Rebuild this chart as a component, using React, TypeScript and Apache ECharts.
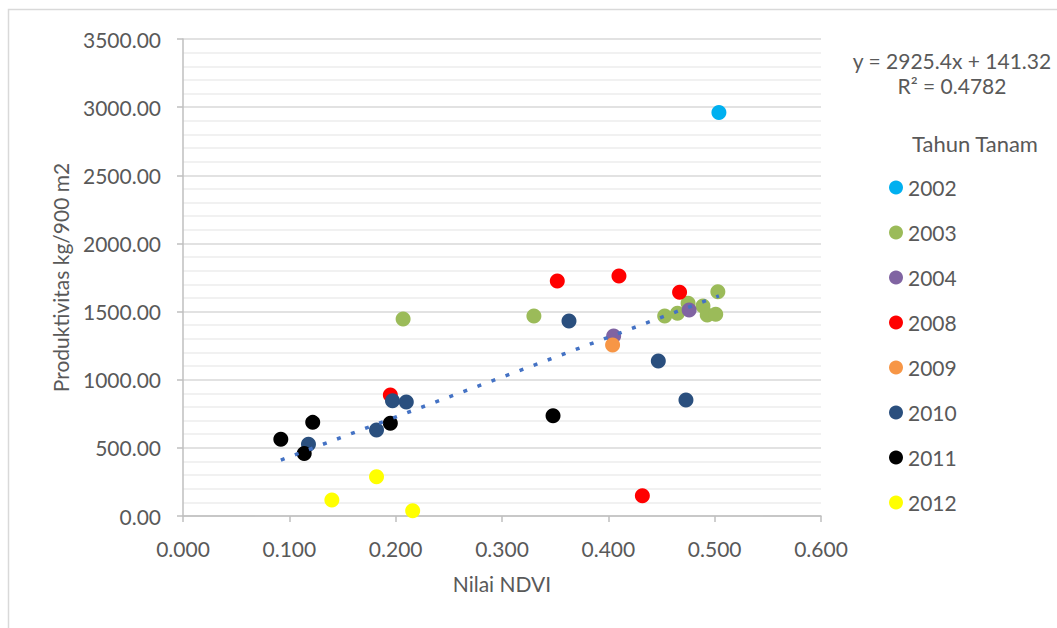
import React, { useEffect, useRef } from "react";
import * as echarts from "echarts";

const years = ["2002", "2003", "2004", "2008", "2009", "2010", "2011", "2012"];
const colors = ["#00b0f0", "#9bbb59", "#8064a2", "#ff0000", "#f79646", "#2a4f7e", "#000000", "#ffff00"];

const d2002: number[][] = [[0.504, 2960]];
const d2003: number[][] = [
  [0.207, 1445], [0.330, 1467], [0.453, 1467], [0.465, 1487], [0.475, 1561],
  [0.489, 1541], [0.493, 1475], [0.501, 1480], [0.503, 1646],
];
const d2004: number[][] = [[0.405, 1321], [0.476, 1511]];
const d2008: number[][] = [[0.352, 1724], [0.410, 1761], [0.467, 1641], [0.195, 888], [0.432, 148]];
const d2009: number[][] = [[0.404, 1255]];
const d2010: number[][] = [
  [0.363, 1431], [0.447, 1137], [0.473, 851], [0.197, 846], [0.210, 836], [0.182, 631], [0.118, 526],
];
const d2011: number[][] = [[0.348, 736], [0.195, 680], [0.122, 687], [0.092, 563], [0.114, 458]];
const d2012: number[][] = [[0.140, 117], [0.182, 288], [0.216, 39]];
const seriesData = [d2002, d2003, d2004, d2008, d2009, d2010, d2011, d2012];

const slope = 2925.4;
const intercept = 141.32;
const trendRange = [0.092, 0.504];

const xTicks = [0, 0.1, 0.2, 0.3, 0.4, 0.5, 0.6];
const yTicks = [0, 500, 1000, 1500, 2000, 2500, 3000, 3500];

const FONT = "Lato, 'Open Sans', sans-serif";
const TXT = "#595959";
const FS = 21;

export default function App() {
  const ref = useRef<HTMLDivElement>(null);
  useEffect(() => {
    document.body.style.margin = "0";
    const chart = echarts.init(ref.current!, null, { renderer: "svg" });
    const scatter = years.map((y, i) => ({
      name: y,
      type: "scatter",
      data: seriesData[i],
      symbol: "circle",
      symbolSize: 15,
      itemStyle: { color: colors[i], opacity: 1 },
      z: 2,
    }));
    const trend = {
      name: "trend",
      type: "line",
      data: trendRange.map((x) => [x, slope * x + intercept]),
      symbol: "none",
      lineStyle: { color: "#4472c4", width: 3.5, type: [4, 11], cap: "butt" },
      z: 5,
    };
    chart.setOption({
      animation: false,
      textStyle: { fontFamily: FONT },
      grid: { left: 183, right: 236, top: 39, bottom: 112, containLabel: false },
      xAxis: {
        type: "value",
        min: xTicks[0],
        max: xTicks[xTicks.length - 1],
        interval: 0.1,
        name: "Nilai NDVI",
        nameLocation: "middle",
        nameGap: 57,
        nameTextStyle: { color: TXT, fontSize: FS, fontFamily: FONT },
        axisLine: { show: true, lineStyle: { color: "#bfbfbf", width: 1.5 } },
        axisTick: { show: true, inside: false, length: 6, lineStyle: { color: "#bfbfbf", width: 1.5 } },
        axisLabel: { color: TXT, fontSize: FS, margin: 22, fontFamily: FONT, formatter: (v: number) => v.toFixed(3) },
        splitLine: { show: false },
      },
      yAxis: {
        type: "value",
        min: yTicks[0],
        max: yTicks[yTicks.length - 1],
        interval: 500,
        name: "Produktivitas kg/900 m2",
        nameLocation: "middle",
        nameGap: 112,
        nameRotate: 90,
        nameTextStyle: { color: TXT, fontSize: FS, fontFamily: FONT },
        axisLine: { show: true, lineStyle: { color: "#bfbfbf", width: 1.5 } },
        axisTick: { show: true, inside: false, length: 6, lineStyle: { color: "#bfbfbf", width: 1.5 } },
        axisLabel: { color: TXT, fontSize: FS, margin: 22, fontFamily: FONT, formatter: (v: number) => v.toFixed(2) },
        splitLine: { show: true, lineStyle: { color: "#d9d9d9", width: 1.5 } },
        minorTick: { show: false, splitNumber: 5 },
        minorSplitLine: { show: true, lineStyle: { color: "#ececec", width: 1.5 } },
      },
      legend: {
        data: years,
        orient: "vertical",
        left: 889,
        top: 177,
        padding: 0,
        itemWidth: 14,
        itemHeight: 14,
        itemGap: 24,
        icon: "circle",
        textStyle: { color: TXT, fontSize: FS, fontFamily: FONT, padding: [0, 0, 0, 0] },
      },
      graphic: [
        {
          type: "rect",
          shape: { x: 8.5, y: 9.5, width: 1100, height: 700 },
          style: { fill: "none", stroke: "#d9d9d9", lineWidth: 1.5 },
          silent: true,
        },
        {
          type: "text",
          x: 952,
          y: 60,
          style: { text: "y = 2925.4x + 141.32", fill: TXT, font: `${FS}px ${FONT}`, align: "center", verticalAlign: "middle" },
        },
        {
          type: "text",
          x: 952,
          y: 85,
          style: { text: "R² = 0.4782", fill: TXT, font: `${FS}px ${FONT}`, align: "center", verticalAlign: "middle" },
        },
        {
          type: "text",
          x: 975,
          y: 143,
          style: { text: "Tahun Tanam", fill: TXT, font: `22px ${FONT}`, align: "center", verticalAlign: "middle" },
        },
      ],
      series: [...scatter, trend],
    });
    return () => chart.dispose();
  }, []);
  return <div ref={ref} style={{ width: 1057, height: 628 }} />;
}
